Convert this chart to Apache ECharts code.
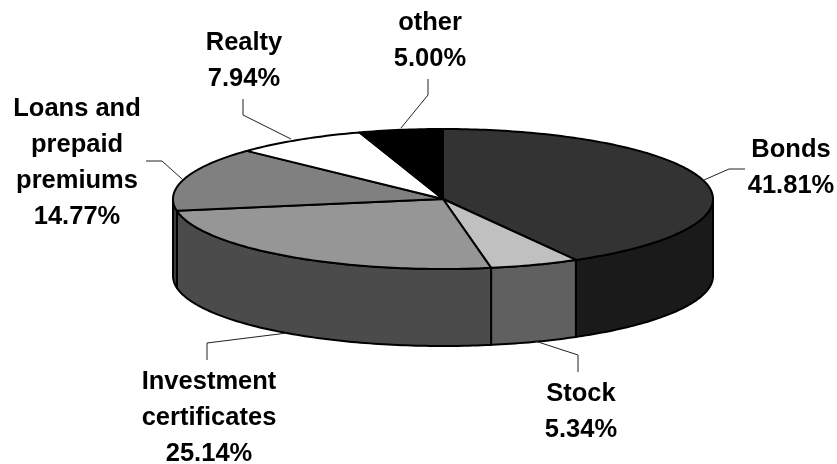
<!DOCTYPE html>
<html>
<head>
<meta charset="utf-8">
<style>
    html, body { margin: 0; padding: 0; background: #fff; }
    #chart { width: 837px; height: 464px; }
</style>
<script src="https://cdn.jsdelivr.net/npm/echarts@6/dist/echarts.min.js"></script>
</head>
<body>
<div id="chart"></div>
<script>
var categories = ['Bonds', 'Stock', 'Investment\ncertificates', 'Loans and\nprepaid\npremiums', 'Realty', 'other'];
var shares = [41.81, 5.34, 25.14, 14.77, 7.94, 5.00];
var topColors = ['#333333', '#c0c0c0', '#969696', '#808080', '#ffffff', '#000000'];
var wallColors = ['#1a1a1a', '#606060', '#4b4b4b', '#404040', '#808080', '#000000'];

// label centre x, top y and leader line for each slice
var labelAnchors = [[791, 132], [581, 376], [209, 364], [77, 91], [244, 25], [430, 5]];
var leaders = [
    [[745, 169], [729, 169], [704, 180]],
    [[578, 372], [578, 355], [535, 341]],
    [[207, 360], [207, 343], [287, 333]],
    [[146, 161], [162, 161], [182, 179]],
    [[243, 99], [243, 115], [291, 139]],
    [[428, 79], [428, 95], [401, 128]]
];

var cx = 443, cy = 199, rx = 270, ry = 70, depth = 77;

var total = 0;
var startAngles = [];
for (var i = 0; i < shares.length; i++) {
    startAngles.push(total / 100 * 360);
    total += shares[i];
}

function rimPoint(deg, dy) {
    var rad = deg * Math.PI / 180;
    return [cx + rx * Math.sin(rad), cy - ry * Math.cos(rad) + dy];
}

function arcPoints(from, to, dy) {
    var pts = [];
    for (var a = from; a < to; a += 1) {
        pts.push(rimPoint(a, dy));
    }
    pts.push(rimPoint(to, dy));
    return pts;
}

function renderWall(params, api) {
    var i = params.dataIndex;
    var from = Math.max(startAngles[i], 90);
    var to = Math.min(startAngles[i] + api.value(0) * 3.6, 270);
    if (to <= from) {
        return null;
    }
    return {
        type: 'polygon',
        shape: { points: arcPoints(from, to, 0).concat(arcPoints(from, to, depth).reverse()) },
        style: { fill: wallColors[i], stroke: '#000', lineWidth: 2, lineJoin: 'round' }
    };
}

function renderTop(params, api) {
    var i = params.dataIndex;
    var from = startAngles[i];
    var to = from + api.value(0) * 3.6;
    return {
        type: 'polygon',
        shape: { points: [[cx, cy]].concat(arcPoints(from, to, 0)) },
        style: { fill: topColors[i], stroke: '#000', lineWidth: 2, lineJoin: 'round' }
    };
}

function renderLabel(params, api) {
    var i = params.dataIndex;
    return {
        type: 'group',
        children: [{
            type: 'polyline',
            shape: { points: leaders[i] },
            style: { fill: null, stroke: '#222', lineWidth: 1 }
        }, {
            type: 'text',
            x: labelAnchors[i][0],
            y: labelAnchors[i][1],
            style: {
                text: categories[i] + '\n' + api.value(0).toFixed(2) + '%',
                font: 'bold 25.5px "Liberation Sans", Arial, sans-serif',
                fill: '#000',
                align: 'center',
                verticalAlign: 'top',
                lineHeight: 36
            }
        }]
    };
}

var chart = echarts.init(document.getElementById('chart'), null, { renderer: 'canvas' });
var seriesData = shares.map(function (v) { return [v]; });
chart.setOption({
    backgroundColor: '#fff',
    animation: false,
    series: [
        { type: 'custom', coordinateSystem: 'none', silent: true, z: 1, renderItem: renderWall, data: seriesData },
        { type: 'custom', coordinateSystem: 'none', silent: true, z: 2, renderItem: renderTop, data: seriesData },
        { type: 'custom', coordinateSystem: 'none', silent: true, z: 3, renderItem: renderLabel, data: seriesData }
    ]
});
</script>
</body>
</html>
